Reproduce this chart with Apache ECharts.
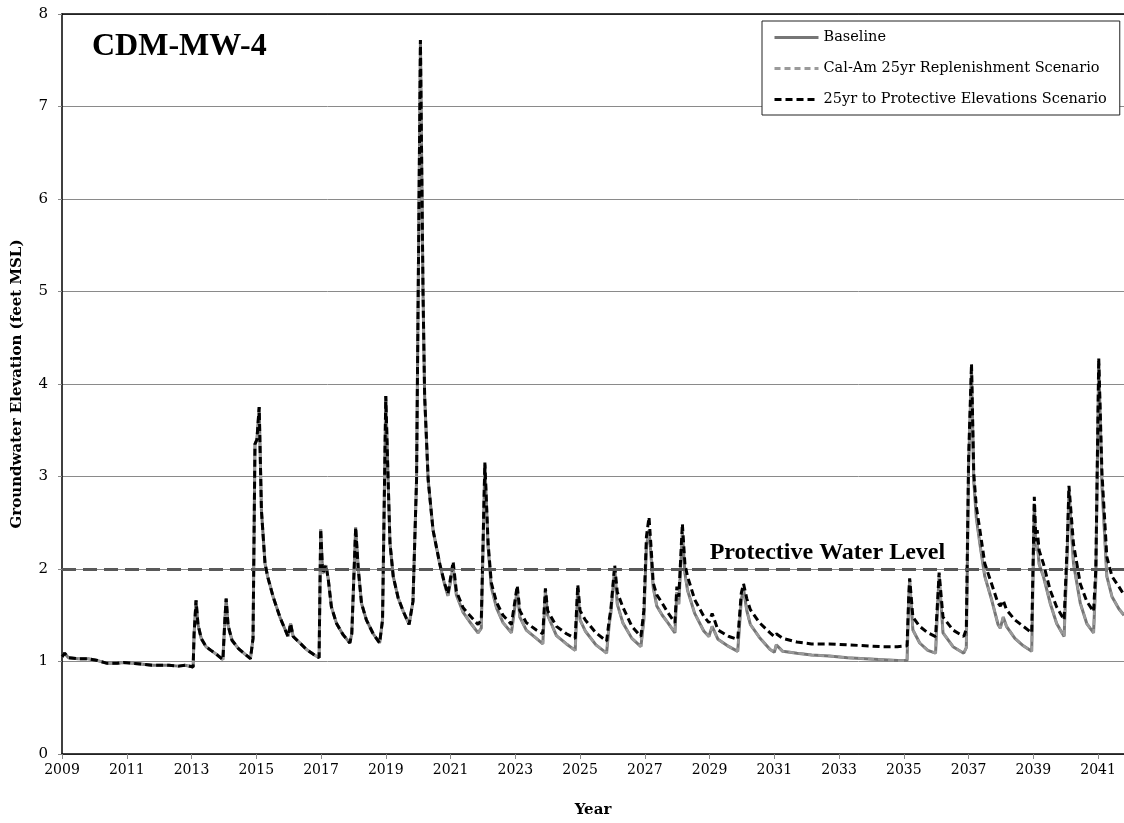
<!DOCTYPE html>
<html>
<head>
<meta charset="utf-8">
<script src="https://cdn.jsdelivr.net/npm/echarts@6/dist/echarts.min.js"></script>
<style>
html,body{margin:0;padding:0;background:#fff;}
#chart{width:1124px;height:823px;}
</style>
</head>
<body>
<div id="chart"></div>
<script>
// Time (decimal year) of each read point
var times = [
2009.00,2009.08,2009.20,2009.50,2009.80,2010.10,2010.40,2010.70,2010.90,2011.20,2011.50,2011.80,2012.10,2012.30,2012.60,2012.80,2013.05,
2013.08,2013.14,2013.20,2013.30,2013.45,2013.60,2013.80,2013.97,2014.03,2014.07,2014.13,2014.25,2014.45,2014.65,2014.82,2014.90,
2014.96,2015.02,2015.09,2015.16,2015.27,2015.35,2015.52,2015.73,2015.98,2016.06,2016.14,2016.35,2016.55,2016.80,2016.94,
2016.99,2017.05,2017.15,2017.22,2017.32,2017.48,2017.68,2017.89,2017.95,2018.07,2018.15,2018.25,2018.40,2018.61,2018.81,2018.90,
2019.00,2019.07,2019.13,2019.23,2019.38,2019.53,2019.72,2019.84,2019.95,2020.07,2020.15,2020.20,2020.31,2020.46,2020.67,2020.82,2020.92,
2021.08,2021.18,2021.39,2021.59,2021.85,2021.95,2022.06,2022.16,2022.26,2022.42,2022.62,2022.88,
2023.06,2023.14,2023.34,2023.65,2023.85,2023.93,2024.00,2024.27,2024.58,2024.85,2024.93,2025.00,2025.16,2025.49,2025.82,2025.90,2025.95,
2026.07,2026.15,2026.32,2026.60,2026.88,2026.97,2027.05,2027.13,2027.20,2027.26,2027.37,2027.54,2027.71,2027.93,2027.99,2028.05,
2028.16,2028.24,2028.32,2028.54,2028.82,2028.98,2029.08,2029.26,2029.60,2029.87,2029.98,2030.05,2030.15,2030.26,2030.54,2030.87,
2031.00,2031.06,2031.26,2031.70,2032.15,2032.70,2033.26,2033.81,2034.37,2034.80,2035.10,2035.15,2035.18,2035.28,2035.49,2035.74,2035.98,
2036.05,2036.09,2036.21,2036.52,2036.85,2036.93,2037.00,2037.09,2037.16,2037.24,2037.35,2037.50,2037.71,2037.91,2037.98,2038.07,
2038.17,2038.43,2038.69,2038.95,2039.00,2039.03,2039.08,2039.12,2039.18,2039.31,2039.52,2039.72,2039.95,2040.05,2040.10,2040.24,
2040.45,2040.65,2040.86,2040.93,2041.02,2041.12,2041.27,2041.43,2041.64,2041.80
];

var baseline = [
1.05,1.09,1.04,1.03,1.03,1.01,0.98,0.98,0.99,0.98,0.97,0.96,0.96,0.96,0.95,0.96,0.94,
1.30,1.66,1.40,1.25,1.16,1.12,1.07,1.02,1.45,1.68,1.39,1.23,1.14,1.08,1.03,1.25,
3.35,3.40,3.75,2.63,2.06,1.92,1.70,1.48,1.27,1.41,1.27,1.20,1.13,1.07,1.04,
2.43,1.95,2.04,1.90,1.59,1.41,1.29,1.20,1.30,2.45,2.00,1.63,1.45,1.30,1.20,1.45,
3.87,2.99,2.28,1.92,1.69,1.55,1.40,1.65,2.96,7.72,5.00,3.87,2.96,2.42,2.05,1.83,1.71,
2.02,1.72,1.53,1.43,1.31,1.36,3.13,2.24,1.80,1.58,1.42,1.31,
1.78,1.48,1.34,1.25,1.19,1.76,1.50,1.28,1.19,1.12,1.80,1.45,1.33,1.18,1.09,1.40,1.52,
2.00,1.62,1.42,1.25,1.16,1.45,2.25,2.42,2.10,1.80,1.60,1.50,1.42,1.31,1.75,1.62,
2.40,1.95,1.77,1.52,1.33,1.27,1.38,1.24,1.16,1.11,1.67,1.78,1.55,1.40,1.26,1.13,
1.10,1.18,1.11,1.09,1.07,1.06,1.04,1.03,1.02,1.01,1.01,1.65,1.88,1.34,1.20,1.12,1.09,
1.65,1.93,1.31,1.16,1.09,1.15,3.10,4.15,2.95,2.55,2.27,1.92,1.67,1.40,1.36,1.48,
1.38,1.25,1.17,1.11,2.10,2.70,2.20,2.28,2.05,1.92,1.63,1.41,1.27,2.20,2.85,2.06,
1.63,1.41,1.31,1.90,4.22,2.90,1.92,1.70,1.57,1.50
];

var calAm = [
1.05,1.09,1.04,1.03,1.03,1.01,0.98,0.98,0.99,0.98,0.97,0.96,0.96,0.96,0.95,0.96,0.94,
1.30,1.66,1.40,1.25,1.16,1.12,1.07,1.02,1.45,1.68,1.39,1.23,1.14,1.08,1.03,1.25,
3.35,3.40,3.75,2.63,2.06,1.92,1.70,1.48,1.27,1.41,1.27,1.20,1.13,1.07,1.04,
2.43,1.95,2.04,1.90,1.59,1.41,1.29,1.20,1.30,2.45,2.00,1.63,1.45,1.30,1.20,1.45,
3.87,2.99,2.28,1.92,1.69,1.55,1.40,1.65,2.96,7.72,5.00,3.87,2.96,2.42,2.05,1.83,1.71,
2.02,1.72,1.53,1.43,1.31,1.36,3.13,2.24,1.80,1.58,1.42,1.31,
1.78,1.48,1.34,1.25,1.19,1.76,1.50,1.28,1.19,1.12,1.80,1.45,1.33,1.18,1.09,1.40,1.52,
2.00,1.62,1.42,1.25,1.16,1.45,2.25,2.42,2.10,1.80,1.60,1.50,1.42,1.31,1.75,1.62,
2.40,1.95,1.77,1.52,1.33,1.27,1.38,1.24,1.16,1.11,1.67,1.78,1.55,1.40,1.26,1.13,
1.10,1.18,1.11,1.09,1.07,1.06,1.04,1.03,1.02,1.01,1.01,1.65,1.88,1.34,1.20,1.12,1.09,
1.65,1.93,1.31,1.16,1.09,1.15,3.10,4.15,2.95,2.55,2.27,1.92,1.67,1.40,1.36,1.48,
1.38,1.25,1.17,1.11,2.10,2.70,2.20,2.28,2.05,1.92,1.63,1.41,1.27,2.20,2.85,2.06,
1.63,1.41,1.31,1.90,4.22,2.90,1.92,1.70,1.57,1.50
];

var protectiveScenario = [
1.05,1.09,1.04,1.03,1.03,1.01,0.98,0.98,0.99,0.98,0.97,0.96,0.96,0.96,0.95,0.96,0.94,
1.30,1.66,1.40,1.25,1.16,1.12,1.07,1.02,1.45,1.68,1.39,1.23,1.14,1.08,1.03,1.25,
3.35,3.40,3.75,2.63,2.06,1.92,1.70,1.48,1.27,1.41,1.27,1.20,1.13,1.07,1.04,
2.43,1.95,2.04,1.90,1.59,1.41,1.29,1.20,1.30,2.45,2.00,1.63,1.45,1.30,1.20,1.45,
3.87,2.99,2.28,1.92,1.69,1.55,1.40,1.65,2.96,7.72,5.00,3.87,2.96,2.42,2.05,1.84,1.73,
2.08,1.76,1.58,1.50,1.40,1.45,3.15,2.28,1.85,1.64,1.50,1.40,
1.82,1.55,1.42,1.34,1.30,1.79,1.55,1.38,1.30,1.25,1.83,1.55,1.45,1.31,1.22,1.45,1.56,
2.04,1.75,1.59,1.38,1.27,1.55,2.35,2.56,2.20,1.85,1.72,1.63,1.53,1.42,1.81,1.70,
2.49,2.05,1.92,1.67,1.49,1.42,1.52,1.34,1.27,1.24,1.74,1.84,1.68,1.56,1.42,1.31,
1.27,1.30,1.25,1.21,1.19,1.19,1.18,1.17,1.16,1.16,1.17,1.70,1.90,1.48,1.38,1.31,1.27,
1.70,1.96,1.48,1.34,1.27,1.35,3.20,4.22,3.03,2.67,2.42,2.06,1.84,1.63,1.60,1.66,
1.56,1.45,1.38,1.31,2.20,2.78,2.30,2.42,2.20,2.06,1.77,1.59,1.45,2.30,2.90,2.27,
1.84,1.65,1.54,2.00,4.28,3.03,2.13,1.92,1.81,1.72
];

var protectiveLevel = 2;
var xTickYears = [2009,2011,2013,2015,2017,2019,2021,2023,2025,2027,2029,2031,2033,2035,2037,2039,2041];

function pairs(vals){ return times.map(function(t,i){ return [t, vals[i]]; }); }

var chart = echarts.init(document.getElementById('chart'), null, {renderer:'canvas'});
var serif = 'DejaVu Serif';
chart.setOption({
  animation:false,
  backgroundColor:'#ffffff',
  title:{
    text:'CDM-MW-4', left:87, top:26,
    textStyle:{fontFamily:'Liberation Serif', fontWeight:'bold', fontSize:32, color:'#000'}
  },
  legend:{
    orient:'vertical', left:762, top:21,
    backgroundColor:'#ffffff', borderColor:'#222', borderWidth:1,
    padding:[9,13,8,11], itemGap:16, itemWidth:44, itemHeight:14,
    itemStyle:{opacity:0},
    lineStyle:{width:3},
    textStyle:{fontFamily:serif, fontSize:14.5, color:'#000'},
    data:['Baseline','Cal-Am 25yr Replenishment Scenario','25yr to Protective Elevations Scenario']
  },
  grid:{left:62, right:0, top:14, bottom:65, containLabel:false},
  xAxis:[{
    type:'value', min:2009, max:2041.8, interval:2,
    name:'Year', nameLocation:'middle', nameGap:49,
    nameTextStyle:{fontFamily:serif, fontWeight:'bold', fontSize:15, color:'#000'},
    axisLine:{show:true, lineStyle:{color:'#000', width:1.5}},
    axisTick:{show:true, length:5, lineStyle:{color:'#888'}},
    axisLabel:{margin:9, fontFamily:serif, fontSize:14, color:'#000', showMaxLabel:false,
      formatter:function(v){ return xTickYears.indexOf(Math.round(v*100)/100)>=0 ? String(v) : ''; }},
    splitLine:{show:false}
  },{
    type:'value', position:'top', min:2009, max:2041.8,
    axisLine:{show:true, lineStyle:{color:'#000', width:1.5}},
    axisTick:{show:false}, axisLabel:{show:false}, splitLine:{show:false}
  }],
  yAxis:{
    type:'value', min:0, max:8, interval:1,
    name:'Groundwater Elevation (feet MSL)', nameLocation:'middle', nameGap:37, nameRotate:90,
    nameTextStyle:{fontFamily:serif, fontWeight:'bold', fontSize:15, color:'#000'},
    axisLine:{show:true, lineStyle:{color:'#000', width:1.5}},
    axisTick:{show:true, length:4, lineStyle:{color:'#888'}},
    axisLabel:{margin:14, fontFamily:serif, fontSize:15, color:'#000'},
    splitLine:{show:true, lineStyle:{color:'#8a8a8a', width:1}}
  },
  series:[
    {
      name:'Baseline', type:'line', data:pairs(baseline), showSymbol:false, symbol:'none',
      lineStyle:{color:'#767676', width:3}, itemStyle:{color:'#767676'}, z:2,
      markLine:{
        silent:true, symbol:['none','none'],
        label:{show:false},
        lineStyle:{color:'#595959', width:3, type:[14,7]},
        data:[{yAxis:protectiveLevel}]
      },
      markPoint:{
        silent:true, symbol:'circle', symbolSize:0,
        label:{show:true, position:'top', distance:4, formatter:'Protective Water Level',
          fontFamily:'Liberation Serif', fontWeight:'bold', fontSize:24, color:'#000'},
        data:[{coord:[2032.64, protectiveLevel]}]
      }
    },
    {
      name:'Cal-Am 25yr Replenishment Scenario', type:'line', data:pairs(calAm), showSymbol:false, symbol:'none',
      lineStyle:{color:'#9a9a9a', width:2.5, type:[6,4]}, itemStyle:{color:'#9a9a9a'}, z:3
    },
    {
      name:'25yr to Protective Elevations Scenario', type:'line', data:pairs(protectiveScenario), showSymbol:false, symbol:'none',
      lineStyle:{color:'#000000', width:3, type:[7,4]}, itemStyle:{color:'#000000'}, z:4
    }
  ]
});
</script>
</body>
</html>
